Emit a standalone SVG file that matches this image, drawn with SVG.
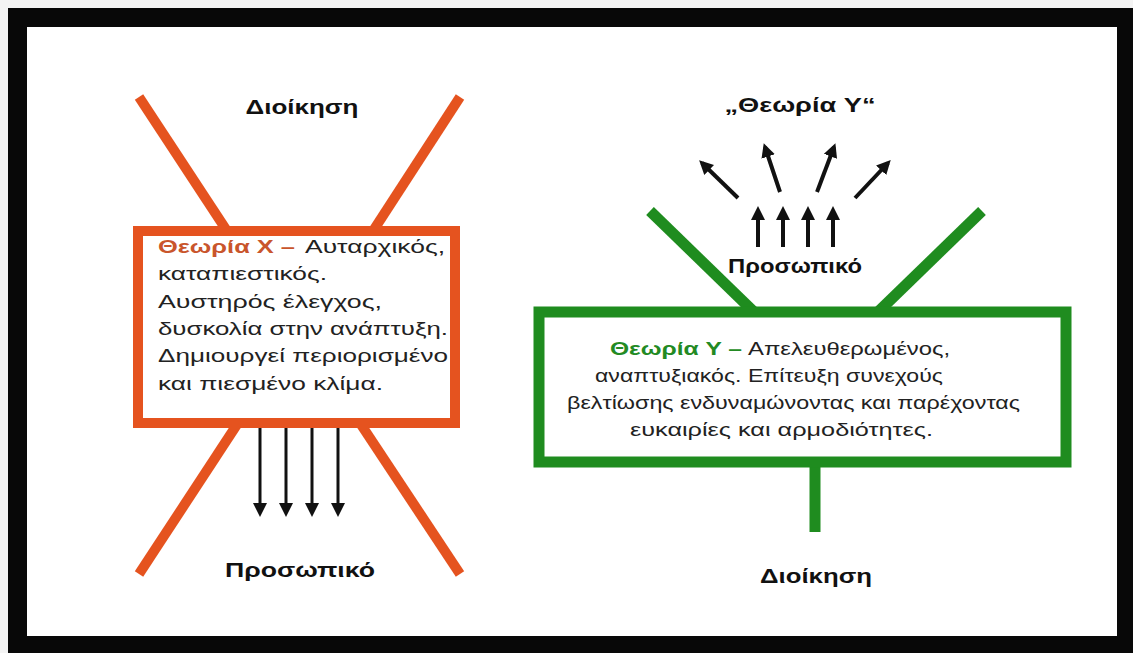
<svg xmlns="http://www.w3.org/2000/svg" width="1133" height="653" viewBox="0 0 1133 653">
<style>
.lbl{font-family:"Liberation Sans",Arial,sans-serif;font-weight:bold;font-size:20px;fill:#111}
.body{font-family:"Liberation Sans",Arial,sans-serif;font-size:19px;fill:#222}
.bx{font-family:"Liberation Sans",Arial,sans-serif;font-weight:bold;font-size:19px;fill:#c9552c}
.by{font-family:"Liberation Sans",Arial,sans-serif;font-weight:bold;font-size:19px;fill:#238a23}
.or{stroke:#e5531f;stroke-width:10;fill:none}
.gr{stroke:#1f8c1f;stroke-width:11;fill:none}
.ar{stroke:#111;stroke-width:3;fill:none}
.ar4{stroke:#111;stroke-width:4;fill:none}
</style>
<defs>
<marker id="ah" markerUnits="userSpaceOnUse" markerWidth="14" markerHeight="14" refX="10" refY="7" orient="auto">
<path d="M0,0 L14,7 L0,14 z" fill="#111"/>
</marker>
</defs>
<rect x="0" y="0" width="1133" height="653" fill="#f4f4f4"/>
<rect x="8" y="8" width="1125" height="645" fill="#080808"/>
<rect x="27" y="27" width="1090" height="609" fill="#ffffff"/>

<g id="theoryX">
<line class="or" x1="139" y1="97" x2="227" y2="231"/>
<line class="or" x1="460" y1="97" x2="373" y2="231"/>
<line class="or" x1="238" y1="423" x2="139" y2="574"/>
<line class="or" x1="360" y1="423" x2="460" y2="574"/>
<rect class="or" x="138" y="231" width="317" height="192" fill="#ffffff"/>
<text class="bx" x="158" y="253" textLength="137" lengthAdjust="spacingAndGlyphs">Θεωρία X –</text>
<text class="body" x="305" y="253" textLength="140" lengthAdjust="spacingAndGlyphs">Αυταρχικός,</text>
<text class="body" x="158" y="280" textLength="169" lengthAdjust="spacingAndGlyphs">καταπιεστικός.</text>
<text class="body" x="158" y="308" textLength="224" lengthAdjust="spacingAndGlyphs">Αυστηρός έλεγχος,</text>
<text class="body" x="158" y="335" textLength="290" lengthAdjust="spacingAndGlyphs">δυσκολία στην ανάπτυξη.</text>
<text class="body" x="158" y="362" textLength="290" lengthAdjust="spacingAndGlyphs">Δημιουργεί περιορισμένο</text>
<text class="body" x="158" y="390" textLength="225" lengthAdjust="spacingAndGlyphs">και πιεσμένο κλίμα.</text>
</g>

<g id="labelX-top"><text class="lbl" x="302" y="114" text-anchor="middle" textLength="113" lengthAdjust="spacingAndGlyphs">Διοίκηση</text></g>
<g id="labelX-bottom"><text class="lbl" x="300" y="577" text-anchor="middle" textLength="150" lengthAdjust="spacingAndGlyphs">Προσωπικό</text></g>

<g id="theoryY">
<line class="gr" x1="650" y1="211" x2="754" y2="312"/>
<line class="gr" x1="982" y1="211" x2="878" y2="312"/>
<line class="gr" x1="815" y1="462" x2="815" y2="532"/>
<rect class="gr" x="539" y="312" width="527" height="150" fill="#ffffff"/>
<text class="by" x="610" y="355" textLength="132" lengthAdjust="spacingAndGlyphs">Θεωρία Y –</text>
<text class="body" x="748" y="355" textLength="202" lengthAdjust="spacingAndGlyphs">Απελευθερωμένος,</text>
<text class="body" x="595" y="382" textLength="348" lengthAdjust="spacingAndGlyphs">αναπτυξιακός. Επίτευξη συνεχούς</text>
<text class="body" x="567" y="409" textLength="453" lengthAdjust="spacingAndGlyphs">βελτίωσης ενδυναμώνοντας και παρέχοντας</text>
<text class="body" x="630" y="436" textLength="303" lengthAdjust="spacingAndGlyphs">ευκαιρίες και αρμοδιότητες.</text>
</g>

<g id="labelY-title"><text class="lbl" x="800" y="112" text-anchor="middle" textLength="151" lengthAdjust="spacingAndGlyphs">„Θεωρία Y“</text></g>
<g id="labelY-staff"><text class="lbl" x="795" y="273" text-anchor="middle" textLength="134" lengthAdjust="spacingAndGlyphs">Προσωπικό</text></g>
<g id="labelY-bottom"><text class="lbl" x="816" y="583" text-anchor="middle" textLength="112" lengthAdjust="spacingAndGlyphs">Διοίκηση</text></g>

<g id="connectors">
<line class="ar" x1="260" y1="428" x2="260" y2="513" marker-end="url(#ah)"/>
<line class="ar" x1="286" y1="428" x2="286" y2="513" marker-end="url(#ah)"/>
<line class="ar" x1="312" y1="428" x2="312" y2="513" marker-end="url(#ah)"/>
<line class="ar" x1="338" y1="428" x2="338" y2="513" marker-end="url(#ah)"/>
<line class="ar4" x1="758" y1="247" x2="758" y2="210" marker-end="url(#ah)"/>
<line class="ar4" x1="783" y1="247" x2="783" y2="210" marker-end="url(#ah)"/>
<line class="ar4" x1="808" y1="247" x2="808" y2="210" marker-end="url(#ah)"/>
<line class="ar4" x1="833" y1="247" x2="833" y2="210" marker-end="url(#ah)"/>
<line class="ar4" x1="738" y1="198" x2="702" y2="163" marker-end="url(#ah)"/>
<line class="ar4" x1="780" y1="192" x2="765" y2="147" marker-end="url(#ah)"/>
<line class="ar4" x1="817" y1="192" x2="834" y2="147" marker-end="url(#ah)"/>
<line class="ar4" x1="855" y1="198" x2="888" y2="163" marker-end="url(#ah)"/>
</g>
</svg>
